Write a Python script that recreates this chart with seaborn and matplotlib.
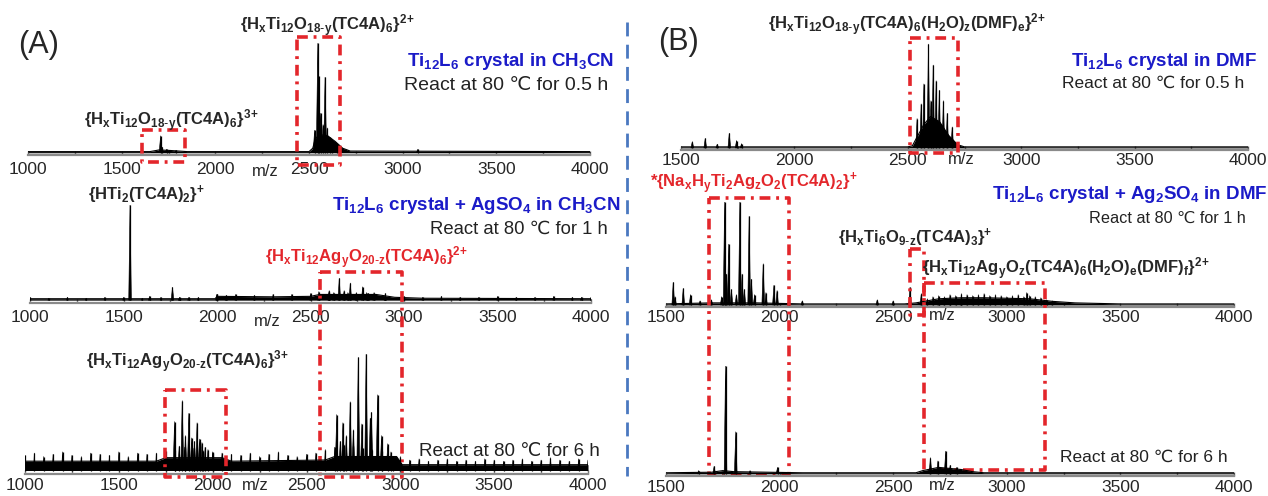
import matplotlib
matplotlib.use("Agg")
import matplotlib.pyplot as plt
import matplotlib.transforms as mtransforms
from matplotlib.collections import PolyCollection
from matplotlib.lines import Line2D
import numpy as np
import pandas as pd
import seaborn as sns

# ---- spectra (m/z, relative intensity 0-100) ----
a1_peak_mz = [1708, 1716, 1740, 1790, 2530, 2547, 2552, 2562, 2575, 2586, 2598, 2610, 2625, 2650, 3081]
a1_peak_h = [15, 5, 3, 2, 20, 97, 68, 35, 25, 67, 22, 14, 10, 6, 3]
a1_env_mz = [1000, 1650, 1700, 1760, 1850, 2500, 2520, 2535, 2560, 2600, 2640, 2680, 2720, 4000]
a1_env_h = [1, 1, 2.5, 2, 1, 1, 4, 13, 16, 15, 10, 4, 1.5, 1]

a2_peak_mz = [1535, 1640, 1762, 1800, 1850, 2000, 2050, 2545, 2600, 2625, 2654, 2680, 2713, 2745, 2779, 2810, 2840, 2900, 3950]
a2_peak_h = [100, 4, 13.5, 3, 3, 6, 5, 9, 10, 8, 23, 10, 18, 8, 14, 7, 8, 4, 3]
a2_env_mz = [1000, 1990, 2000, 2300, 2500, 2550, 2850, 2950, 3100, 4000]
a2_env_h = [1.5, 1.5, 4, 3.5, 4, 6, 6, 3, 2, 1.5]
a2_noise_mz = np.arange(1000, 4001, 100)
a2_noise_h = [3, 2, 3, 2, 3, 3, 2, 3, 2, 3,
              6, 6, 5, 6, 6, 7,
              9, 8, 8, 7,
              4, 3, 4, 3, 3, 4, 3, 3, 4, 3, 3]

a3_peak_mz = [1797, 1822, 1838, 1855, 1873, 1888, 1903, 1917, 1930, 1943, 1960,
              1975, 2000, 2661, 2680, 2694, 2712, 2733, 2750, 2776, 2795, 2818, 2840, 2846, 2879, 2900,
              2933, 2960]
a3_peak_h = [42, 21, 60, 30, 49, 28, 25, 41, 27, 24, 20,
             18, 15, 48, 25, 41, 30, 59, 35, 97, 40, 100, 45, 50, 65, 30,
             23, 12]
a3_env_mz = [1000, 1700, 1750, 2050, 2100, 2600, 2650, 2980, 3010, 4000]
a3_env_h = [8, 8, 11, 11, 8, 9, 12, 12, 5, 5]
a3_noise_mz = np.arange(1000, 4001, 50)
a3_noise_h = [13, 15, 12, 14, 16, 13, 12, 15, 14, 13, 16, 12, 15, 14,
              15, 17, 18, 20, 19, 17, 16, 15,
              14, 13, 15, 12, 14, 16, 13, 12, 14, 15,
              18, 20, 22, 21, 19, 18, 17, 16,
              12, 9, 10, 8, 9, 10, 8, 9, 8, 10, 9, 8, 9, 10, 8, 9, 11, 9, 8, 10, 9]

b1_peak_mz = [1550, 1607, 1660, 1713, 1745, 1767, 2541, 2559, 2571, 2591, 2602, 2612, 2625, 2639, 2657, 2674, 2696]
b1_peak_h = [6, 9, 3.5, 14, 7, 4, 28, 42, 61, 99, 45, 79, 64, 55, 45, 33, 20]
b1_env_mz = [1500, 2500, 2520, 2540, 2570, 2600, 2640, 2680, 2720, 2750, 4000]
b1_env_h = [1, 1, 2, 10, 22, 30, 25, 12, 3, 1, 1]

b2_peak_mz = [1532, 1540, 1576, 1608, 1650, 1700, 1745, 1758, 1766, 1776, 1788, 1810, 1825, 1835, 1845,
              1866, 1876, 1890, 1928, 1940, 1975, 1989, 2040, 2100, 2430, 2500, 2574, 2624, 2700, 2800, 3088]
b2_peak_h = [22, 8, 16, 10, 4, 5, 8, 100, 30, 59, 15, 10, 100, 30, 15,
             86, 25, 10, 40, 12, 19, 14, 4, 4, 5, 4, 17, 11, 5, 5, 12]
b2_env_mz = [1500, 1600, 1700, 1900, 2100, 2550, 2600, 2650, 2700, 2800, 2900, 3000, 3100, 3200, 3300, 3500, 4000]
b2_env_h = [1, 1.5, 2, 2, 1, 1, 2, 4, 6, 7, 7, 6.5, 6, 3.5, 2, 1, 1]
b2_noise_mz = np.arange(2650, 3201, 25)
b2_noise_h = [6, 8, 9, 8, 10, 9, 11, 10, 9, 10, 11, 9, 10, 9, 8, 9, 10, 8, 9, 8, 7, 5, 4]

b3_peak_mz = [1644, 1712, 1762, 1807, 1870, 1991, 2664, 2697, 2731, 2751, 2780]
b3_peak_h = [3, 7, 100, 39, 3, 6, 15, 12, 21, 8, 6]
b3_env_mz = [1500, 1700, 1750, 1800, 2100, 2600, 2630, 2700, 2800, 2850, 2900, 4000]
b3_env_h = [1, 1.5, 3, 2, 1, 1, 3, 6, 4, 2, 1, 1]

W, H = 1268, 496

sns.set_theme(style="white")
plt.rcParams["font.family"] = ["Liberation Sans", "DejaVu Sans"]
plt.rcParams["mathtext.default"] = "regular"

fig = plt.figure(figsize=(W / 100, H / 100), dpi=100)


def px_axes(left, right, base, top):
    return fig.add_axes([left / W, 1 - base / H, (right - left) / W, (base - top) / H])


def add_peaks(ax, mz, h, half):
    verts = [[(m - half, 0), (m, v), (m + half, 0)] for m, v in zip(mz, h)]
    ax.add_collection(PolyCollection(verts, facecolor="black", edgecolor="black", lw=0.4))
    ax.vlines(mz, 0, h, color="black", lw=0.9)


def draw_spectrum(ax, env_mz, env_h, peak_mz, peak_h, xlim, ylo, pad, half):
    env = pd.DataFrame({"mz": env_mz, "h": env_h})
    ax.fill_between(env["mz"], 0, env["h"], color="black", lw=0)
    sns.lineplot(data=env, x="mz", y="h", ax=ax, color="black", lw=0.8, estimator=None)
    add_peaks(ax, peak_mz, peak_h, half)
    ax.set_xlim(*xlim)
    ax.set_ylim(ylo, 100)
    ax.set_xlabel("")
    ax.set_ylabel("")
    ax.set_yticks([])
    ax.set_xticks(np.arange(xlim[0], xlim[1] + 1, 500))
    ax.set_xticks(np.arange(xlim[0], xlim[1] + 1, 250), minor=True)
    ax.tick_params(axis="x", which="both", direction="in", length=3, width=1, color="#777777",
                   labelsize=12.5, pad=pad, bottom=True)
    for s in ["top", "right", "left"]:
        ax.spines[s].set_visible(False)
    ax.spines["bottom"].set_color("#8a8a8a")
    ax.spines["bottom"].set_linewidth(1.6)
    ax.patch.set_alpha(0)


axA1 = px_axes(28, 590, 155, 40)
axA2 = px_axes(30, 591, 303, 205)
axA3 = px_axes(25, 588, 474, 354)
axB1 = px_axes(681, 1248, 150, 43)
axB2 = px_axes(666, 1234, 307, 202)
axB3 = px_axes(666, 1234, 476, 366)

draw_spectrum(axA1, a1_env_mz, a1_env_h, a1_peak_mz, a1_peak_h, (1000, 4000), -2, 5, 8)
draw_spectrum(axA2, a2_env_mz, a2_env_h, a2_peak_mz, a2_peak_h, (1000, 4000), -3, 5, 7)
add_peaks(axA2, a2_noise_mz, a2_noise_h, 4)
draw_spectrum(axA3, a3_env_mz, a3_env_h, a3_peak_mz, a3_peak_h, (1000, 4000), -3, 3, 8)
add_peaks(axA3, a3_noise_mz, a3_noise_h, 5)
draw_spectrum(axB1, b1_env_mz, b1_env_h, b1_peak_mz, b1_peak_h, (1500, 4000), -2, 2, 6)
draw_spectrum(axB2, b2_env_mz, b2_env_h, b2_peak_mz, b2_peak_h, (1500, 4000), -2, 2, 6)
add_peaks(axB2, b2_noise_mz, b2_noise_h, 3)
draw_spectrum(axB3, b3_env_mz, b3_env_h, b3_peak_mz, b3_peak_h, (1500, 4000), -2, 3, 6)

# m/z axis captions
for x, y in [(265, 171), (267, 322), (255, 486), (961, 160), (942, 316), (942, 485)]:
    fig.text(x / W, 1 - y / H, "m/z", fontsize=12, ha="center", va="center")

# red dash-dot boxes: (axis, m/z left, m/z right, top px, bottom px)
RED = "#e3262b"
boxes = [
    (axA1, 1610, 1839, 130, 162),
    (axA1, 2438, 2667, 37, 165),
    (axA2, 2550, 2991, 272, 477),
    (axA3, 1747, 2073, 390, 477),
    (axB1, 2508, 2722, 38, 153),
    (axB2, 1690, 2041, 198, 475),
    (axB2, 2574, 2637, 249, 315),
    (axB2, 2637, 3170, 283, 470),
]
for ax, x0, x1, yt, yb in boxes:
    tr = mtransforms.blended_transform_factory(ax.transData, fig.transFigure)
    y0, y1 = 1 - yb / H, 1 - yt / H
    ax.plot([x0, x1, x1, x0, x0], [y1, y1, y0, y0, y1], transform=tr, color=RED, lw=2.6,
            linestyle=(0, (3.0, 1.6, 0.8, 1.6)), clip_on=False, zorder=5)

# blue separator
fig.add_artist(Line2D([627 / W, 627 / W], [1 - 22 / H, 1 - 476 / H], color="#4a78c0", lw=2,
                      linestyle=(0, (5, 3))))

BLUE = "#1b1bc8"


def t(x, y, s, ha="center", **kw):
    fig.text(x / W, 1 - y / H, s, ha=ha, va="center", **kw)


t(39, 45, "(A)", fontsize=22)
t(679, 42, "(B)", fontsize=22)

P2 = r"$^{2}$$^{+}$"
P3 = r"$^{3}$$^{+}$"
P1 = r"$^{+}$"
bold = dict(fontsize=12, fontweight="bold")
t(327, 26, r"{H$_x$Ti$_{12}$O$_{18\text{-}y}$(TC4A)$_6$}" + P2, **bold)
t(171, 121, r"{H$_x$Ti$_{12}$O$_{18\text{-}y}$(TC4A)$_6$}" + P3, **bold)
t(88, 195, r"{HTi$_2$(TC4A)$_2$}" + P1, ha="left", **bold)
t(367, 258, r"{H$_x$Ti$_{12}$Ag$_y$O$_{20\text{-}z}$(TC4A)$_6$}" + P2, color=RED, **bold)
t(188, 362, r"{H$_x$Ti$_{12}$Ag$_y$O$_{20\text{-}z}$(TC4A)$_6$}" + P3, **bold)
t(907, 25, r"{H$_x$Ti$_{12}$O$_{18\text{-}y}$(TC4A)$_6$(H$_2$O)$_z$(DMF)$_e$}" + P2, **bold)
t(650, 183, r"*{Na$_x$H$_y$Ti$_2$Ag$_z$O$_2$(TC4A)$_2$}" + P1, ha="left", color=RED, **bold)
t(915, 238, r"{H$_x$Ti$_6$O$_{9\text{-}z}$(TC4A)$_3$}" + P1, **bold)
t(922, 269, r"{H$_x$Ti$_{12}$Ag$_y$O$_z$(TC4A)$_6$(H$_2$O)$_e$(DMF)$_f$}" + P2, ha="left", **bold)

blue = dict(fontsize=13.5, fontweight="bold", color=BLUE, ha="right")
t(614, 62, r"Ti$_{12}$L$_6$ crystal in CH$_3$CN", **blue)
t(620, 206, r"Ti$_{12}$L$_6$ crystal + AgSO$_4$ in CH$_3$CN", **blue)
t(1257, 62, r"Ti$_{12}$L$_6$ crystal in DMF", **blue)
t(1267, 195, r"Ti$_{12}$L$_6$ crystal + Ag$_2$SO$_4$ in DMF", **blue)

react = dict(color="#222222", ha="right")
t(608, 85, "React at 80 ℃ for 0.5 h", fontsize=14, **react)
t(608, 229, "React at 80 ℃ for 1 h", fontsize=13.3, **react)
t(600, 452, "React at 80 ℃ for 6 h", fontsize=13.5, **react)
t(1244, 83, "React at 80 ℃ for 0.5 h", fontsize=12.5, **react)
t(1246, 218, "React at 80 ℃ for 1 h", fontsize=11.7, **react)
t(1228, 457, "React at 80 ℃ for 6 h", fontsize=12.5, **react)

fig.savefig("out.png", dpi=100)
